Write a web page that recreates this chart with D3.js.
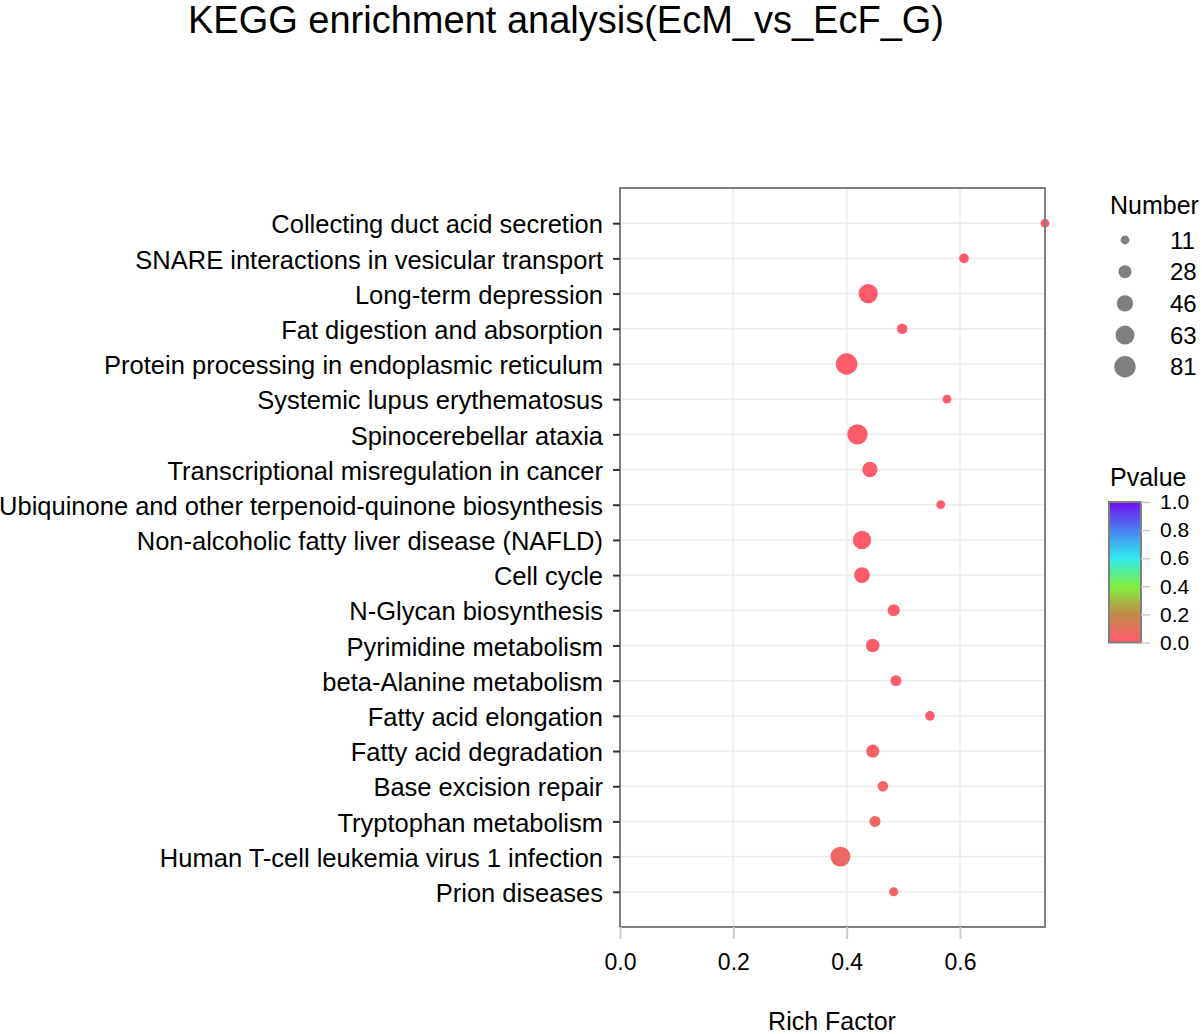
<!DOCTYPE html>
<html><head><meta charset="utf-8">
<script src="https://cdn.jsdelivr.net/npm/d3@7"></script>
<style>
body{margin:0;background:#fff;}
svg text{font-family:"Liberation Sans",Arial,sans-serif;fill:#000;}
</style></head>
<body><svg id="chart" width="1202" height="1034"></svg>
<script>
const pathways = [
"Collecting duct acid secretion",
"SNARE interactions in vesicular transport",
"Long-term depression",
"Fat digestion and absorption",
"Protein processing in endoplasmic reticulum",
"Systemic lupus erythematosus",
"Spinocerebellar ataxia",
"Transcriptional misregulation in cancer",
"Ubiquinone and other terpenoid-quinone biosynthesis",
"Non-alcoholic fatty liver disease (NAFLD)",
"Cell cycle",
"N-Glycan biosynthesis",
"Pyrimidine metabolism",
"beta-Alanine metabolism",
"Fatty acid elongation",
"Fatty acid degradation",
"Base excision repair",
"Tryptophan metabolism",
"Human T-cell leukemia virus 1 infection",
"Prion diseases"];
const richFactor = [0.750,0.607,0.438,0.498,0.400,0.577,0.419,0.441,0.566,0.427,0.427,0.483,0.446,0.487,0.547,0.446,0.464,0.450,0.389,0.483];
const geneNumber = [11,14,65,17,81,11,73,40,11,59,42,24,31,19,14,28,17,19,70,12];
const pValue = [0.0002,0.0005,0.001,0.002,0.003,0.004,0.005,0.006,0.008,0.009,0.010,0.012,0.014,0.016,0.018,0.022,0.045,0.050,0.055,0.060];
const xTicks = [0.0,0.2,0.4,0.6];
const sizeBreaks = [11,28,46,63,81];
const pTicks = [0.0,0.2,0.4,0.6,0.8,1.0];
const colorStops = ["#ff5a6b","#c48a4a","#80f040","#30eaf0","#4a80f0","#7010f0"];
const titleText = "KEGG enrichment analysis(EcM_vs_EcF_G)";

const svg = d3.select("#chart");
const P = {l:620, r:1045, t:188, b:927};

const x = d3.scaleLinear().domain([0,0.75]).range([P.l,P.r]);
const y = d3.scalePoint().domain(pathways).range([P.t,P.b]).padding(1);
const rScale = v => { const r1=4.4, r2=10.7; const t=(v-11)/(81-11); return Math.sqrt(r1*r1 + Math.max(0,t)*(r2*r2-r1*r1)); };
const color = d3.scaleLinear().domain(pTicks).range(colorStops).interpolate(d3.interpolateRgb);

// title
svg.append("text").attr("x",566).attr("y",33).attr("text-anchor","middle")
  .style("font-size","38px").text(titleText);

// panel background + grid
const g = svg.append("g");
g.append("rect").attr("x",P.l).attr("y",P.t).attr("width",P.r-P.l).attr("height",P.b-P.t).attr("fill","#fff");
g.selectAll(".vg").data(xTicks).join("line")
  .attr("x1",d=>x(d)).attr("x2",d=>x(d)).attr("y1",P.t).attr("y2",P.b)
  .attr("stroke","#ebebeb").attr("stroke-width",1.5);
g.selectAll(".hg").data(pathways).join("line")
  .attr("x1",P.l).attr("x2",P.r).attr("y1",d=>y(d)).attr("y2",d=>y(d))
  .attr("stroke","#ebebeb").attr("stroke-width",1.5);

// points
const data = pathways.map((p,i)=>({p, rf:richFactor[i], n:geneNumber[i], pv:pValue[i]}));
g.selectAll("circle.pt").data(data).join("circle")
  .attr("cx",d=>x(d.rf)).attr("cy",d=>y(d.p)).attr("r",d=>rScale(d.n))
  .attr("fill",d=>color(d.pv));

// border
svg.append("rect").attr("x",P.l).attr("y",P.t).attr("width",P.r-P.l).attr("height",P.b-P.t)
  .attr("fill","none").attr("stroke","#7f7f7f").attr("stroke-width",2);

// y axis
const yAxis = svg.append("g").attr("transform",`translate(${P.l},0)`)
  .call(d3.axisLeft(y).tickSize(7).tickPadding(10));
yAxis.select(".domain").remove();
yAxis.selectAll(".tick line").attr("stroke","#333").attr("stroke-width",2);
yAxis.selectAll(".tick text").style("font-size","25.5px").attr("fill","#000").attr("dy","0.38em");

// x axis
const xAxis = svg.append("g").attr("transform",`translate(0,${P.b})`)
  .call(d3.axisBottom(x).tickValues(xTicks).tickFormat(d3.format(".1f")).tickSize(12).tickPadding(15));
xAxis.select(".domain").remove();
xAxis.selectAll(".tick line").attr("stroke","#cccccc").attr("stroke-width",2);
xAxis.selectAll(".tick text").style("font-size","23px").attr("fill","#000");

svg.append("text").attr("x",832).attr("y",1030).attr("text-anchor","middle")
  .style("font-size","25px").text("Rich Factor");

// size legend
svg.append("text").attr("x",1110).attr("y",214).style("font-size","25px").text("Number");
const sl = svg.append("g");
sizeBreaks.forEach((v,i)=>{
  const cy = 240 + i*31.7;
  sl.append("circle").attr("cx",1125).attr("cy",cy).attr("r",rScale(v)).attr("fill","#7f7f7f");
  sl.append("text").attr("x",1170).attr("y",cy).attr("dy","0.36em").style("font-size","24px").text(v);
});

// color legend
svg.append("text").attr("x",1110).attr("y",486).style("font-size","25px").text("Pvalue");
const defs = svg.append("defs");
const grad = defs.append("linearGradient").attr("id","pg").attr("x1","0").attr("y1","1").attr("x2","0").attr("y2","0");
pTicks.forEach((t,i)=>grad.append("stop").attr("offset",t).attr("stop-color",colorStops[i]));
const cb = {x:1109, w:32, t:502, b:642.5};
const cy = d3.scaleLinear().domain([0,1]).range([cb.b,cb.t]);
svg.append("rect").attr("x",cb.x).attr("y",cb.t).attr("width",cb.w).attr("height",cb.b-cb.t)
  .attr("fill","url(#pg)").attr("stroke","#7f7f7f").attr("stroke-width",2);
const cAxis = svg.append("g").attr("transform",`translate(${cb.x+cb.w},0)`)
  .call(d3.axisRight(cy).tickValues(pTicks).tickFormat(d3.format(".1f")).tickSize(9).tickPadding(10));
cAxis.select(".domain").remove();
cAxis.selectAll(".tick line").attr("stroke","#cccccc").attr("stroke-width",1.5);
cAxis.selectAll(".tick text").style("font-size","21px").attr("fill","#000");
</script></body></html>
